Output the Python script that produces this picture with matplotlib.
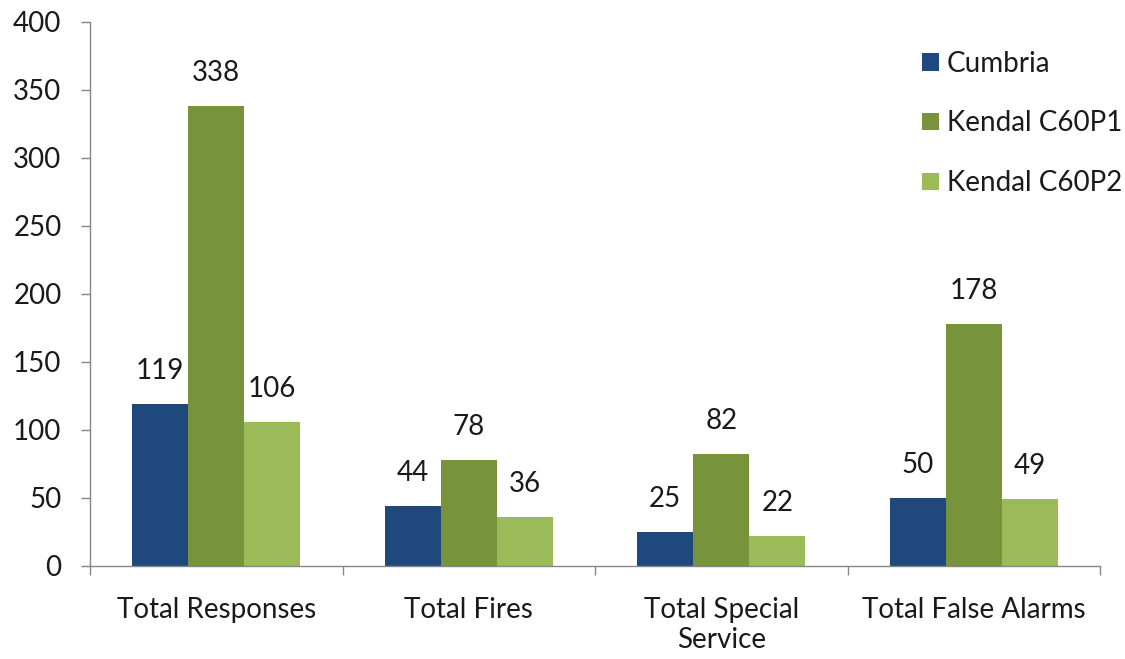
import matplotlib
matplotlib.use("Agg")
import matplotlib.pyplot as plt
import numpy as np

categories = ["Total Responses", "Total Fires", "Total Special\nService", "Total False Alarms"]
series_names = ["Cumbria", "Kendal C60P1", "Kendal C60P2"]
cumbria = [119, 44, 25, 50]
kendal_p1 = [338, 78, 82, 178]
kendal_p2 = [106, 36, 22, 49]
yticks = [0, 50, 100, 150, 200, 250, 300, 350, 400]

colors = ["#1F497D", "#77933C", "#9BBB59"]
plt.rcParams['font.family'] = ['Lato', 'DejaVu Sans']

fig = plt.figure(figsize=(11.25, 6.59), dpi=100)
ax = fig.add_axes([90/1125, 1-566/659, 1010/1125, (566-22)/659])

x = np.arange(len(categories))
w = 0.222
for i, (vals, name) in enumerate(zip([cumbria, kendal_p1, kendal_p2], series_names)):
    pos = x + (i - 1) * w
    bars = ax.bar(pos, vals, width=w, color=colors[i], label=name, zorder=2)
    for b, v in zip(bars, vals):
        ax.annotate(str(v), (b.get_x() + b.get_width()/2, v), xytext=(0, 24),
                    textcoords="offset points", ha="center", va="center",
                    fontsize=20, color="#1a1a1a")

ax.set_xlim(-0.5, 3.5)
ax.set_ylim(0, 400)
ax.set_yticks(yticks)
ax.set_xticks(x)
ax.set_xticklabels(categories)
ax.set_xticks(np.arange(-0.5, 4.0, 1.0), minor=True)
ax.tick_params(axis='x', which='major', length=0, pad=22, labelsize=20, labelcolor="#1a1a1a")
ax.tick_params(axis='x', which='minor', length=6.5, width=1, color="#868686", direction='out')
ax.tick_params(axis='y', length=6.5, width=1, color="#868686", pad=14, labelsize=20, labelcolor="#1a1a1a")
for s in ["top", "right"]:
    ax.spines[s].set_visible(False)
for s in ["left", "bottom"]:
    ax.spines[s].set_color("#868686")
    ax.spines[s].set_linewidth(1)

leg = ax.legend(loc="upper right", bbox_to_anchor=(1.033, 0.968), frameon=False, fontsize=20,
                handlelength=0.6, handleheight=0.6, handletextpad=0.3, labelspacing=1.22,
                borderaxespad=0.0)
for t in leg.get_texts():
    t.set_color("#1a1a1a")

fig.savefig("out.png", dpi=100)
